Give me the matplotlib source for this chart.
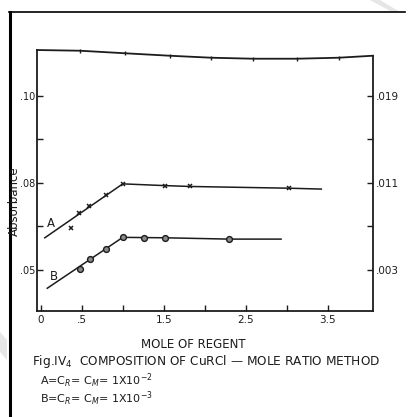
import numpy as np
import matplotlib
matplotlib.use("Agg")
import matplotlib.pyplot as plt
from matplotlib.lines import Line2D
from matplotlib.patches import Polygon

###############################################################################
# Data (mole ratio method, CuRCl)
###############################################################################
# series A: C_R = C_M = 1x10^-2  (crosses)
a_x = [0.37, 0.47, 0.59, 0.79, 1.00, 1.51, 1.82, 3.03]
a_y = [0.0696, 0.0732, 0.0747, 0.0772, 0.0798, 0.0794, 0.0792, 0.0788]
a_line_x = [0.05, 1.00, 1.51, 1.82, 3.03, 3.42]
a_line_y = [0.0674, 0.0798, 0.0794, 0.0792, 0.0788, 0.0786]

# series B: C_R = C_M = 1x10^-3  (circles)
b_x = [0.48, 0.60, 0.79, 1.00, 1.26, 1.52, 2.29]
b_y = [0.0602, 0.0626, 0.0648, 0.0675, 0.0674, 0.0674, 0.0671]
b_line_x = [0.08, 1.00, 1.52, 2.29, 2.93]
b_line_y = [0.0558, 0.0675, 0.0674, 0.0671, 0.0671]

# hand drawn top border of the frame (not straight)
top_x = [-0.045, 0.48, 1.03, 1.57, 2.08, 2.59, 3.12, 3.63, 4.05]
top_y = [0.11057, 0.11041, 0.10982, 0.10926, 0.10880, 0.10857, 0.10857, 0.10880, 0.10926]

# tick positions and (odd) labels as printed
x_ticks = [0, 0.5, 1.0, 1.5, 2.0, 2.5, 3.0, 3.5]
x_labels = ["0", ".5", "", "1.5", "", "2.5", "", "3.5"]
left_ticks = [0.06, 0.07, 0.08, 0.09, 0.10]
left_labels = [".05", "", ".08", "", ".10"]
right_ticks = [0.003, 0.007, 0.011, 0.015, 0.019]
right_labels = [".003", "", ".011", "", ".019"]

INK = "#1c1c1c"
X_LO, X_HI = -0.045, 4.05
Y_LO, Y_HI = 0.05057, 0.110575

###############################################################################
# Figure
###############################################################################
fig = plt.figure(figsize=(4.09, 4.17), dpi=100)
ax = fig.add_axes([37 / 409, 1 - 311 / 417, (373 - 37) / 409, (311 - 50) / 417])
ax.set_xlim(X_LO, X_HI)
ax.set_ylim(Y_LO, Y_HI)

for side in ["left", "right", "bottom"]:
    ax.spines[side].set_color(INK)
    ax.spines[side].set_linewidth(1.3)
ax.spines["top"].set_visible(False)
ax.spines["right"].set_bounds(Y_LO, top_y[-1])

# wavy top edge with its small tick marks
ax.plot(top_x, top_y, color=INK, lw=1.3, clip_on=False)
ax.plot(top_x[1:-1], top_y[1:-1], ls="none", marker="|", ms=3, color=INK, clip_on=False)

# series lines and points
ax.plot(a_line_x, a_line_y, color=INK, lw=1.1)
ax.plot(a_x, a_y, ls="none", marker="x", ms=3.5, mew=1.1, color=INK)
ax.plot(b_line_x, b_line_y, color=INK, lw=1.1)
ax.plot(b_x, b_y, ls="none", marker="o", ms=4.2, mfc="#8a8a8a", mec=INK, mew=1.0)

ax.text(0.12, 0.0707, "A", fontsize=8.5, color=INK, ha="center", va="center")
ax.text(0.16, 0.0584, "B", fontsize=8.5, color=INK, ha="center", va="center")

# ticks
ax.set_xticks(x_ticks)
ax.set_xticklabels(x_labels)
ax.set_yticks(left_ticks)
ax.set_yticklabels(left_labels)
ax.tick_params(axis="both", direction="in", length=4, width=1.0, color=INK,
               labelsize=7.5, labelcolor=INK, pad=3)
ax.tick_params(axis="y", pad=1, labelsize=7)

sec = ax.secondary_yaxis("right", functions=(lambda v: 0.019 + 0.4 * (v - 0.10),
                                            lambda r: 0.10 + (r - 0.019) / 0.4))
sec.spines["right"].set_visible(False)
sec.set_yticks(right_ticks)
sec.set_yticklabels(right_labels)
sec.tick_params(direction="in", length=4, width=1.0, color=INK,
                labelsize=7.5, labelcolor=INK, pad=2)

fig.text(14.5 / 409, 1 - 201 / 417, "Absorbance", fontsize=8.5, color=INK,
         rotation=90, ha="center", va="center")

# captions below the chart
fig.text(193 / 409, 1 - 344 / 417, "MOLE OF REGENT", fontsize=8.5, color=INK,
         ha="center", va="center")
fig.text(32 / 409, 1 - 362 / 417, "Fig.IV$_4$  COMPOSITION OF CuRCl \u2014 MOLE RATIO METHOD",
         fontsize=8.7, color=INK, ha="left", va="center")
fig.text(40 / 409, 1 - 381 / 417, r"A=C$_R$= C$_M$= 1X10$^{-2}$", fontsize=8,
         color=INK, ha="left", va="center")
fig.text(40 / 409, 1 - 399 / 417, r"B=C$_R$= C$_M$= 1X10$^{-3}$", fontsize=8,
         color=INK, ha="left", va="center")

# scan frame: thick left edge and top rule, plus the faint corner watermarks
fig.add_artist(Line2D([10 / 409, 10 / 409], [0, 1 - 12 / 417], color="black", lw=2.2))
fig.add_artist(Line2D([9 / 409, 405 / 409], [1 - 12 / 417, 1 - 12 / 417], color="black", lw=1.2))
fig.add_artist(Polygon([[370 / 409, 1], [380 / 409, 1], [400 / 409, 1 - 12 / 417],
                        [392 / 409, 1 - 12 / 417]], closed=True, color="#e6e6e6", lw=0))
fig.add_artist(Polygon([[0, 1 - 332 / 417], [7 / 409, 1 - 340 / 417], [7 / 409, 1 - 360 / 417],
                        [0, 1 - 352 / 417]], closed=True, color="#e6e6e6", lw=0))

fig.savefig("out.png", dpi=100)
